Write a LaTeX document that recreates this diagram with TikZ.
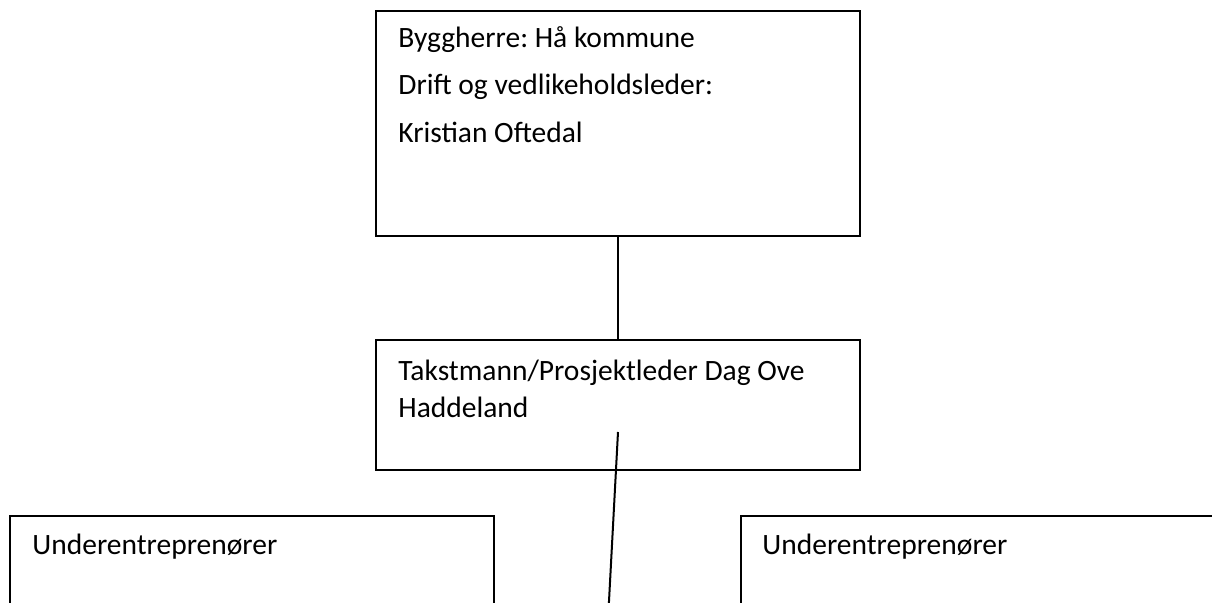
\documentclass[tikz,border=0pt]{standalone}
\usepackage{fontspec}
\setmainfont{Carlito}
\frenchspacing
\begin{document}
\begin{tikzpicture}[x=0.5pt,y=-0.5pt,
  box/.style={draw=black,line width=1pt,rectangle,inner sep=0pt,fill=none},
  txt/.style={anchor=base west,inner sep=0pt,font=\fontsize{14.75pt}{17pt}\selectfont},
  conn/.style={draw=black,line width=1pt}]
\useasboundingbox (0,0) rectangle (1212,603);
\clip (0,0) rectangle (1212,603);
\node[box,minimum width=242pt,minimum height=112.5pt] (top) at (618,123.5) {};
\node[box,minimum width=242pt,minimum height=65pt] (mid) at (618,405) {};
\node[box,minimum width=242pt,minimum height=100pt] (left) at (252,616) {};
\node[box,minimum width=300pt,minimum height=100pt] (right) at (1041,616) {};
\node[txt] (t1) at (398,48) {Byggherre: Hå kommune};
\node[txt] (t2) at (398,95) {Drift og vedlikeholdsleder:};
\node[txt] (t3) at (398,143) {Kristian Oftedal};
\node[txt] (m1) at (398,381) {Takstmann/Prosjektleder Dag Ove};
\node[txt] (m2) at (398,418) {Haddeland};
\node[txt] (l1) at (32,555) {Underentreprenører};
\node[txt] (r1) at (762,555) {Underentreprenører};
\draw[conn] (top.south) -- (mid.north);
\coordinate (cs) at (618,432);
\coordinate (ce) at (608,620);
\draw[conn] (cs) -- (ce);
\end{tikzpicture}
\end{document}
